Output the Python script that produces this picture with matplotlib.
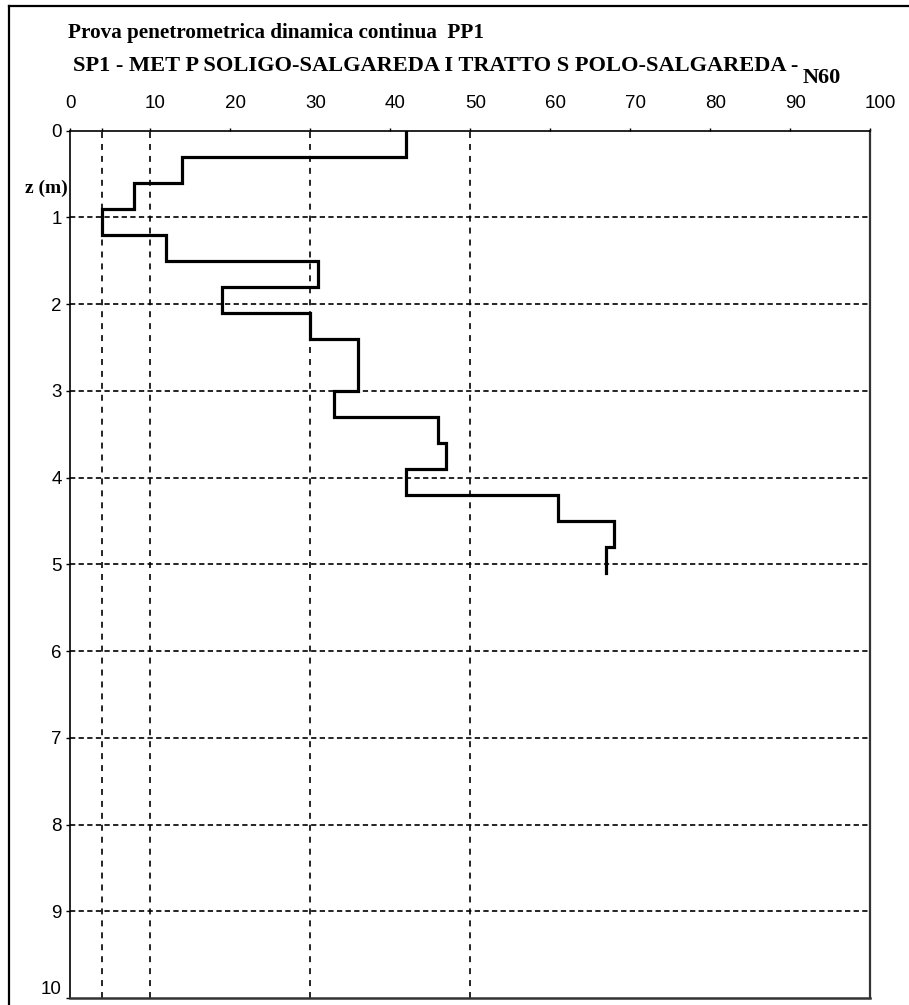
import matplotlib
matplotlib.use("Agg")
import matplotlib.pyplot as plt
from matplotlib.lines import Line2D
from matplotlib.transforms import ScaledTranslation

# profondita' (m) dei limiti di ogni lettura, passo 30 cm
z_top = [0.0, 0.3, 0.6, 0.9, 1.2, 1.5, 1.8, 2.1, 2.4, 2.7, 3.0, 3.3, 3.6, 3.9, 4.2, 4.5, 4.8]
z_bot = [0.3, 0.6, 0.9, 1.2, 1.5, 1.8, 2.1, 2.4, 2.7, 3.0, 3.3, 3.6, 3.9, 4.2, 4.5, 4.8, 5.1]
n60 = [42, 14, 8, 4, 12, 31, 19, 30, 36, 36, 33, 46, 47, 42, 61, 68, 67]

soglie = [4, 10, 30, 50]          # linee verticali di riferimento
x_ticks = [0, 10, 20, 30, 40, 50, 60, 70, 80, 90, 100]
z_ticks = [0, 1, 2, 3, 4, 5, 6, 7, 8, 9, 10]

titolo = "Prova penetrometrica dinamica continua  PP1"
sottotitolo = "SP1 - MET P SOLIGO-SALGAREDA I TRATTO S POLO-SALGAREDA -"

plt.rcParams['lines.scale_dashes'] = False
W, H = 909, 1005
fig = plt.figure(figsize=(W / 100, H / 100), dpi=100)
ax = fig.add_axes([70 / W, 1 - 998 / H, 800 / W, (998 - 130.7) / H])

# profilo a gradini
xs, zs = [], []
for a, b, v in zip(z_top, z_bot, n60):
    xs += [v, v]
    zs += [a, b]
ax.plot(xs, zs, color='black', lw=2.3, solid_joinstyle='miter', zorder=3)

for s in soglie:
    ax.axvline(s, color='black', lw=1.2, dashes=(4.3, 4.3), zorder=1)
for z in z_ticks[1:-1]:
    ax.axhline(z, color='black', lw=1.2, dashes=(3.8, 2.4), zorder=1)

ax.set_xlim(0, 100)
ax.set_ylim(10, 0)
ax.xaxis.tick_top()
ax.set_xticks(x_ticks)
ax.set_xticks([4], minor=True)
ax.set_yticks(z_ticks)
ax.tick_params(axis='x', which='both', direction='out', length=2.5, width=1, pad=11, labelsize=13.5)
ax.tick_params(axis='y', direction='out', length=3, width=1, pad=3, labelsize=13.5)
for lab in ax.get_xticklabels() + ax.get_yticklabels():
    lab.set_fontfamily(['Liberation Sans', 'DejaVu Sans'])
shift = ScaledTranslation(-5 / 100, 0, fig.dpi_scale_trans)
for lab in ax.get_xticklabels():
    lab.set_horizontalalignment('left')
    lab.set_transform(lab.get_transform() + shift)
# l'ultima etichetta (10) sta sul bordo inferiore
ax.get_yticklabels()[-1].set_verticalalignment('bottom')

ax.spines['top'].set_linewidth(1.2)
ax.spines['left'].set_linewidth(1.2)
ax.spines['right'].set_linewidth(1.6)
ax.spines['bottom'].set_linewidth(1.8)
ax.spines['right'].set_color('#333333')
ax.spines['bottom'].set_color('#333333')

serif = ['Liberation Serif', 'DejaVu Serif']
fig.text(68 / W, 1 - 38 / H, titolo, fontsize=15.2, fontweight='bold', family=serif, va='baseline')
fig.text(73 / W, 1 - 71 / H, sottotitolo, fontsize=16.1, fontweight='bold', family=serif, va='baseline')
fig.text(803 / W, 1 - 83 / H, "N60", fontsize=16, fontweight='bold', family=serif, va='baseline')
fig.text(68 / W, 1 - 193 / H, "z (m)", fontsize=14, fontweight='bold', family=serif, va='baseline', ha='right')

# cornice esterna
fig.add_artist(Line2D([9 / W, 9 / W], [0, 1 - 6 / H], transform=fig.transFigure, color='black', lw=1.6))
fig.add_artist(Line2D([9 / W, 1], [1 - 6 / H, 1 - 6 / H], transform=fig.transFigure, color='black', lw=1.6))

fig.savefig('out.png', dpi=100)
